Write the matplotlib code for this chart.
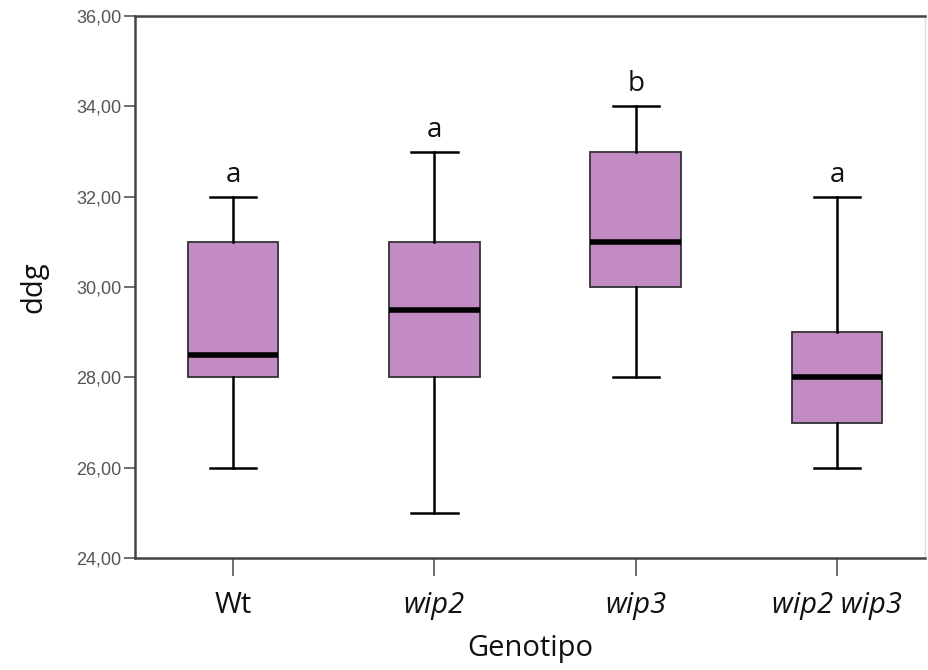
import matplotlib.pyplot as plt

plt.switch_backend("Agg")

# Genotypes and box statistics
genotypes = ["Wt", "wip2", "wip3", "wip2 wip3"]
whisker_low = [26, 25, 28, 26]
q1 = [28, 28, 30, 27]
medians = [28.5, 29.5, 31, 28]
q3 = [31, 31, 33, 29]
whisker_high = [32, 33, 34, 32]
letters = ["a", "a", "b", "a"]

stats = []
for i in range(len(genotypes)):
    stats.append({
        "label": genotypes[i],
        "whislo": whisker_low[i],
        "q1": q1[i],
        "med": medians[i],
        "q3": q3[i],
        "whishi": whisker_high[i],
    })

fig = plt.figure(figsize=(9.29, 6.70), dpi=100)
ax = fig.add_axes([0.1453, 0.1672, 0.8504, 0.8088])

positions = list(range(1, len(genotypes) + 1))
ax.bxp(stats, positions=positions, widths=0.45, showfliers=False,
       patch_artist=True,
       boxprops=dict(facecolor="#C38BC3", edgecolor="#333333", linewidth=1.3),
       medianprops=dict(color="black", linewidth=4),
       whiskerprops=dict(color="black", linewidth=1.8),
       capprops=dict(color="black", linewidth=1.8),
       capwidths=0.23)

# significance letters
for pos, hi, let in zip(positions, whisker_high, letters):
    ax.text(pos, hi + 0.33, let, ha="center", va="baseline",
            fontsize=20, family="Open Sans", color="#111111")

ax.set_xlim(0.513, 4.437)
ax.set_ylim(24, 36)
ax.set_yticks([24, 26, 28, 30, 32, 34, 36])
ax.set_yticklabels(["%d,00" % v for v in [24, 26, 28, 30, 32, 34, 36]],
                   family="Liberation Sans", fontsize=13, color="#555555")

ax.set_xticks(positions)
ax.set_xticklabels(genotypes, family="Open Sans", fontsize=21, color="#111111")
for lab in ax.get_xticklabels()[1:]:
    lab.set_style("italic")

ax.tick_params(axis="y", direction="out", length=8, width=1.2, color="#555555", pad=2)
ax.tick_params(axis="x", direction="out", length=13, width=1.2, color="#555555", pad=11)

for side in ["left", "bottom", "top"]:
    ax.spines[side].set_color("#444444")
    ax.spines[side].set_linewidth(1.8)
ax.spines["right"].set_color("#dddddd")
ax.spines["right"].set_linewidth(1.0)

ax.set_xlabel("Genotipo", family="Open Sans", fontsize=21, color="#111111", labelpad=10)
ax.set_ylabel("ddg", family="Open Sans", fontsize=21, color="#111111", labelpad=20)

plt.savefig("out.png")
plt.close()
